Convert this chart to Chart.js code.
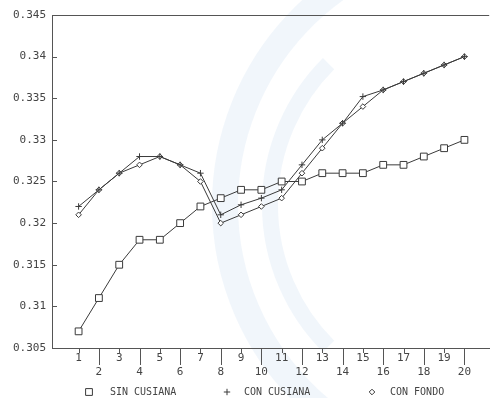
<!DOCTYPE html>
<html><head><meta charset="utf-8">
<script src="https://cdn.jsdelivr.net/npm/chart.js@4"></script>
<style>html,body{margin:0;padding:0;background:#fff}#w{width:495px;height:398px;position:relative}</style>
</head><body><div id="w"><canvas id="c" width="495" height="398"></canvas></div>
<script>
const categories = [1,2,3,4,5,6,7,8,9,10,11,12,13,14,15,16,17,18,19,20];
const sinCusiana = [0.307,0.311,0.315,0.318,0.318,0.320,0.322,0.323,0.324,0.324,0.325,0.325,0.326,0.326,0.326,0.327,0.327,0.328,0.329,0.330];
const conCusiana = [0.322,0.324,0.326,0.328,0.328,0.327,0.326,0.321,0.3222,0.323,0.324,0.327,0.330,0.332,0.3352,0.336,0.337,0.338,0.339,0.340];
const conFondo   = [0.321,0.324,0.326,0.327,0.328,0.327,0.325,0.320,0.321,0.322,0.323,0.326,0.329,0.332,0.334,0.336,0.337,0.338,0.339,0.340];
const yTicks = [0.305,0.31,0.315,0.32,0.325,0.33,0.335,0.34,0.345];
const seriesNames = ['SIN CUSIANA','CON CUSIANA','CON FONDO'];
const seriesStyles = ['rect','cross','rectRot'];

const MONO = '"DejaVu Sans Mono", "Liberation Mono", monospace';
const INK = '#3a3a3a';

function pts(arr){ return categories.map((x,i)=>({x:x, y:arr[i]})); }
function ds(label, arr, style, r){
  return {label, data: pts(arr), borderColor: INK, borderWidth: 1, backgroundColor:'#fff',
    pointStyle: style, pointRadius: r, pointHoverRadius: r, pointBorderColor: INK,
    pointBackgroundColor:'#fff', pointBorderWidth: 1, tension: 0, fill:false};
}

const watermark = {
  id:'watermark',
  beforeDraw(chart){
    const c = chart.ctx; c.save();
    c.strokeStyle = 'rgba(215,228,243,0.35)';
    c.lineWidth = 26;
    c.beginPath(); c.arc(490, 205, 265, Math.PI*0.62, Math.PI*1.36); c.stroke();
    c.lineWidth = 16;
    c.beginPath(); c.arc(470, 205, 200, Math.PI*0.75, Math.PI*1.25); c.stroke();
    c.restore();
  }
};

const frame = {
  id:'frame',
  afterDraw(chart){
    const c = chart.ctx, a = chart.chartArea, xs = chart.scales.x, ys = chart.scales.y;
    c.save();
    c.strokeStyle = '#555'; c.lineWidth = 1;
    c.beginPath(); c.moveTo(a.left, a.top+0.5); c.lineTo(a.right, a.top+0.5); c.stroke();
    yTicks.forEach(v=>{ const y = Math.round(ys.getPixelForValue(v))+0.5;
      c.beginPath(); c.moveTo(a.left, y); c.lineTo(a.left+5, y); c.stroke(); });
    categories.forEach(v=>{ const x = Math.round(xs.getPixelForValue(v))+0.5;
      const len = (v % 2 === 0) ? 17 : 5;
      c.beginPath(); c.moveTo(x, a.bottom); c.lineTo(x, a.bottom+len); c.stroke(); });
    // legend
    const ly = 392;
    const items = [{mx:89, tx:110},{mx:227, tx:244},{mx:372, tx:390}];
    c.font = '10px ' + MONO; c.textBaseline = 'middle'; c.textAlign='left';
    items.forEach((it,i)=>{
      const r = chart.data.datasets[i].pointRadius;
      c.strokeStyle = INK; c.fillStyle = '#fff'; c.lineWidth = 1;
      Chart.helpers.drawPoint(c, {pointStyle: seriesStyles[i], radius: r, borderWidth:1}, it.mx, ly);
      c.fillStyle = '#444';
      c.fillText(seriesNames[i], it.tx, ly);
    });
    c.restore();
  }
};

new Chart(document.getElementById('c'), {
  type:'line',
  data:{ datasets:[ ds(seriesNames[0], sinCusiana, 'rect', 4.8),
                    ds(seriesNames[1], conCusiana, 'cross', 3.2),
                    ds(seriesNames[2], conFondo, 'rectRot', 2.8) ] },
  options:{
    responsive:false, animation:false,
    layout:{ padding:{ top:15, left:0, right:0, bottom:0 } },
    plugins:{ legend:{display:false}, tooltip:{enabled:false} },
    scales:{
      x:{ type:'linear', min:-0.31, max:21.22,
        afterBuildTicks(s){ s.ticks = categories.map(v=>({value:v})); },
        afterFit(s){ s.height = 50; },
        grid:{ display:false, drawTicks:false },
        border:{ display:true, color:'#555', width:1 },
        ticks:{ autoSkip:false, maxRotation:0, padding:4, color:'#444',
          font:{ family: MONO, size:11 },
          callback(v){ return (v % 2 === 0) ? ['', String(v)] : String(v); } } },
      y:{ type:'linear', min:0.305, max:0.345,
        afterBuildTicks(s){ s.ticks = yTicks.map(v=>({value:v})); },
        afterFit(s){ s.width = 52; },
        grid:{ display:false, drawTicks:false },
        border:{ display:true, color:'#555', width:1 },
        ticks:{ padding:6, color:'#444', font:{ family: MONO, size:11 },
          callback(v){ return String(+Number(v).toFixed(3)); } } }
    }
  },
  plugins:[watermark, frame]
});
</script></body></html>
